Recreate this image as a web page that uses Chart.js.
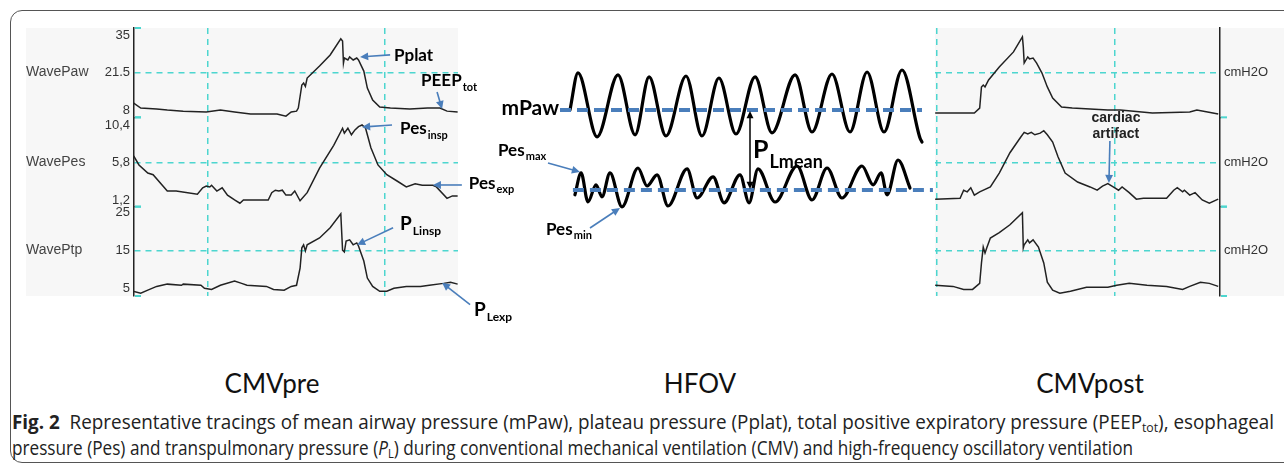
<!DOCTYPE html>
<html>
<head>
<meta charset="utf-8">
<script src="https://cdn.jsdelivr.net/npm/chart.js@4.4.0/dist/chart.umd.min.js"></script>
<style>
  body { margin:0; width:1284px; height:463px; overflow:hidden; background:#fff; position:relative; }
  #frame { position:absolute; left:10px; top:10px; width:1300px; height:453px; border:1.5px solid #555; border-radius:12px; box-sizing:border-box; }
  canvas { position:absolute; top:0; }
  .panel-name { position:absolute; top:367px; font-family:Lato, sans-serif; font-size:26px; color:#111; transform:translateX(-50%); white-space:nowrap; }
  .cap { position:absolute; left:12px; font-family:'Open Sans', sans-serif; font-size:20px; color:#222; white-space:nowrap; transform-origin:0 0; }
  .cap sub { font-size:13px; vertical-align:-3px; line-height:0; }
</style>
</head>
<body>
<div id="frame"></div>
<canvas id="pre" width="560" height="330" style="left:0"></canvas>
<canvas id="post" width="354" height="330" style="left:930px"></canvas>
<canvas id="hfov" width="480" height="330" style="left:460px"></canvas>
<div class="panel-name" style="left:272px">CMVpre</div>
<div class="panel-name" style="left:700px">HFOV</div>
<div class="panel-name" style="left:1090px">CMVpost</div>
<div class="cap" id="cap1" style="top:408px"><b>Fig. 2</b>&nbsp; Representative tracings of mean airway pressure (mPaw), plateau pressure (Pplat), total positive expiratory pressure (PEEP<sub>tot</sub>), esophageal</div>
<div class="cap" id="cap2" style="top:434px">pressure (Pes) and transpulmonary pressure (<i>P</i><sub>L</sub>) during conventional mechanical ventilation (CMV) and high-frequency oscillatory ventilation</div>
<script>
// ---- data (time in s, pressure in cmH2O) ----
const gridTimes = [1, 2];

// CMVpre
const pawPre = [[0.58,10.5],[0.62,8.7],[0.71,8.4],[0.77,8.0],[0.86,7.6],[0.99,7.3],[1.07,8.0],[1.15,7.3],[1.24,6.6],[1.39,6.6],[1.44,5.8],[1.47,7.3],[1.50,7.6],[1.51,8.7],[1.53,17.0],[1.54,17.7],[1.55,16.5],[1.56,19.5],[1.63,23.8],[1.69,27.8],[1.75,33.6],[1.76,32.8],[1.765,24.9],[1.77,26.7],[1.79,26.0],[1.80,27.1],[1.82,26.0],[1.84,26.7],[1.85,26.0],[1.88,22.0],[1.90,15.9],[1.93,11.6],[1.97,9.1],[2.03,8.7],[2.14,8.4],[2.24,8.7],[2.31,8.7],[2.35,7.6],[2.41,7.3]];
const pesPre = [[0.58,6.6],[0.61,5.5],[0.66,4.5],[0.69,4.3],[0.77,2.3],[0.82,2.3],[0.94,1.9],[0.97,2.7],[0.99,2.9],[1.01,2.8],[1.02,3.0],[1.05,2.3],[1.08,2.7],[1.11,1.8],[1.15,1.2],[1.18,0.8],[1.20,1.2],[1.34,1.2],[1.36,2.1],[1.38,2.4],[1.40,2.3],[1.42,2.4],[1.44,1.8],[1.47,1.8],[1.49,2.3],[1.52,1.1],[1.56,2.1],[1.63,5.1],[1.71,7.9],[1.76,10.0],[1.77,9.4],[1.79,10.0],[1.81,9.2],[1.83,9.8],[1.85,10.2],[1.87,10.4],[1.89,10.0],[1.92,7.6],[1.96,5.5],[2.01,4.3],[2.07,3.5],[2.12,2.8],[2.17,3.2],[2.21,3.0],[2.27,3.0],[2.29,2.8],[2.35,1.4],[2.38,1.7],[2.41,1.7]];
const ptpPre = [[0.58,4.2],[0.62,3.7],[0.66,4.5],[0.71,5.5],[0.77,6.1],[0.85,5.8],[0.86,6.1],[0.96,5.8],[0.98,5.0],[1.02,4.7],[1.07,5.8],[1.15,6.9],[1.19,6.3],[1.22,5.8],[1.33,5.5],[1.37,4.7],[1.43,4.5],[1.47,5.5],[1.50,5.8],[1.52,10.3],[1.53,15.7],[1.54,16.5],[1.55,14.9],[1.56,16.5],[1.63,18.3],[1.69,21.0],[1.75,24.7],[1.76,15.1],[1.77,14.6],[1.78,17.5],[1.80,17.8],[1.82,16.5],[1.84,17.0],[1.85,16.2],[1.88,12.2],[1.90,7.7],[1.93,5.5],[1.97,4.2],[2.01,4.2],[2.05,5.0],[2.12,5.5],[2.20,5.5],[2.25,5.8],[2.33,6.3],[2.37,6.6],[2.41,6.1]];

// CMVpost
const pawPost = [[0.99,6.9],[1.21,6.9],[1.24,8.7],[1.25,16.3],[1.26,17.0],[1.27,16.3],[1.29,18.8],[1.35,23.5],[1.43,28.9],[1.48,34.3],[1.485,30.7],[1.49,24.9],[1.51,27.1],[1.52,26.4],[1.54,26.7],[1.56,24.9],[1.59,21.3],[1.62,16.3],[1.65,12.3],[1.70,9.1],[1.76,8.7],[1.96,8.0],[2.03,8.0],[2.21,6.9],[2.42,7.3],[2.46,8.0],[2.52,7.3],[2.58,6.6]];
const pesPost = [[0.99,1.3],[1.13,1.4],[1.15,2.4],[1.17,2.2],[1.19,2.7],[1.21,1.8],[1.24,2.2],[1.30,2.8],[1.35,4.5],[1.41,7.0],[1.47,8.9],[1.49,9.5],[1.51,9.3],[1.53,9.5],[1.55,9.2],[1.58,9.4],[1.60,9.7],[1.62,9.2],[1.65,8.3],[1.68,6.5],[1.72,4.5],[1.79,3.4],[1.86,2.8],[1.90,2.4],[1.93,2.9],[1.96,3.2],[1.99,2.8],[2.02,2.4],[2.04,2.8],[2.08,2.1],[2.12,1.3],[2.16,1.4],[2.29,1.4],[2.33,2.4],[2.35,2.7],[2.38,2.2],[2.39,2.4],[2.42,1.8],[2.45,2.1],[2.49,1.2],[2.53,0.8],[2.58,1.3]];
const ptpPost = [[0.99,5.8],[1.09,5.5],[1.15,4.7],[1.20,4.7],[1.24,6.3],[1.25,11.7],[1.26,15.9],[1.27,14.3],[1.28,15.7],[1.30,18.3],[1.35,19.7],[1.41,21.8],[1.48,25.0],[1.485,15.7],[1.49,16.5],[1.51,17.8],[1.52,17.0],[1.54,17.8],[1.57,15.9],[1.60,11.7],[1.62,6.6],[1.65,4.5],[1.69,3.7],[1.75,4.2],[1.84,5.3],[1.96,5.3],[2.01,5.8],[2.08,6.3],[2.18,5.8],[2.29,5.5],[2.38,4.7],[2.42,5.5],[2.48,6.6],[2.53,6.3],[2.58,5.5]];

// axis ranges / ticks of the monitor rows
const pawRange = [5.37, 37.5], pawTicks = [8, 21.5, 35], pawLabels = ['8', '21.5', '35'];
const pesRange = [0.38, 11.34], pesTicks = [1.2, 5.8, 10.4], pesLabels = ['1,2', '5,8', '10,4'];
const ptpRange = [2.96, 26.59], ptpTicks = [5, 15, 25], ptpLabels = ['5', '15', '25'];

// HFOV schematic (time in ms, pressure in cmH2O)
const mPawWave = [[0,32.5],[44,41.8],[149,25.8],[264,41.3],[358,26.3],[435,40.8],[528,26],[638,41],[726,26],[819,40.5],[913,26.5],[1018,40.8],[1111,26.8],[1238,41.3],[1331,27],[1441,41.5],[1540,27],[1634,42],[1727,27],[1826,42.5],[1925,25.5],[1936,24.5]];
const pesWave = [[27,11.3],[61,16.8],[99,9.5],[143,13.8],[176,10.8],[220,16.8],[286,8.3],[374,18],[424,13.5],[479,16.3],[539,8.5],[644,17.8],[699,10.5],[787,15.8],[847,9.3],[935,16.3],[985,9.3],[1034,17.8],[1128,9.5],[1249,18.5],[1331,10],[1414,18],[1496,10.5],[1606,18.5],[1667,13.8],[1711,16.8],[1744,11.3],[1804,20],[1870,13]];
const mPawLevel = 32.5, pesLevel = 12.5;
const mPawSpan = [-55, 1936], pesSpan = [16, 1996];
const plMeanTime = 990;

const CYAN = '#4dd6cf';
const BLUE = '#4a7ebb';
const NOTE_FONT = 'Lato, sans-serif';
const MONO_FONT = "'Liberation Sans', Arial, sans-serif";

function arrow(ctx, x1, y1, x2, y2, color, width, head) {
  const a = Math.atan2(y2 - y1, x2 - x1);
  ctx.save();
  ctx.strokeStyle = color; ctx.fillStyle = color; ctx.lineWidth = width;
  ctx.beginPath();
  ctx.moveTo(x1, y1);
  ctx.lineTo(x2 - Math.cos(a) * head * 0.7, y2 - Math.sin(a) * head * 0.7);
  ctx.stroke();
  ctx.beginPath();
  ctx.moveTo(x2, y2);
  ctx.lineTo(x2 - head * Math.cos(a - 0.45), y2 - head * Math.sin(a - 0.45));
  ctx.lineTo(x2 - head * Math.cos(a + 0.45), y2 - head * Math.sin(a + 0.45));
  ctx.closePath();
  ctx.fill();
  ctx.restore();
}

function label(ctx, x, y, t) {
  ctx.save();
  ctx.fillStyle = '#000';
  ctx.textAlign = 'left';
  ctx.textBaseline = 'alphabetic';
  ctx.font = 'bold ' + t.size + 'px ' + NOTE_FONT;
  const base = y + t.size * 0.35;
  ctx.fillText(t.main, x, base);
  if (t.sub) {
    const w = ctx.measureText(t.main).width;
    ctx.font = 'bold ' + t.subSize + 'px ' + NOTE_FONT;
    ctx.fillText(t.sub, x + w + 1, base + (t.drop || t.subSize * 0.4));
  }
  ctx.restore();
}

// arrow tip sits on the data, tail and text are offsets in px
function notesPlugin(notes) {
  return {
    id: 'notes',
    afterDatasetsDraw(chart) {
      const ctx = chart.ctx;
      notes.forEach(n => {
        const px = chart.scales.x.getPixelForValue(n.x);
        const py = chart.scales[n.axis].getPixelForValue(n.y);
        const ax = px + n.dx, ay = py + n.dy;
        arrow(ctx, ax, ay, px, py, BLUE, 1.6, 9);
        if (n.main) label(ctx, ax + n.tx, ay + n.ty, n);
      });
    }
  };
}

function trace(points, axis) {
  return { data: points, yAxisID: axis, borderColor: '#222', borderWidth: 1.5, pointRadius: 0, tension: 0 };
}

function xAxis(min, max) {
  return {
    type: 'linear', min: min, max: max,
    afterBuildTicks: s => { s.ticks = gridTimes.map(v => ({ value: v })); },
    afterFit: s => { s.height = 0; },
    ticks: { display: false },
    grid: { color: CYAN, lineWidth: 1.5, drawTicks: false },
    border: { display: false, dash: [6, 5] }
  };
}

function yAxis(range, ticks, labels, pos, stack, width) {
  return {
    type: 'linear', position: pos, stack: stack, stackWeight: 1,
    min: range[0], max: range[1],
    afterBuildTicks: s => { s.ticks = ticks.map(v => ({ value: v })); },
    afterFit: s => { s.width = width; },
    ticks: { callback: (v, i) => labels[i], color: '#333', padding: 4, autoSkip: false,
      font: { family: MONO_FONT, size: 13 } },
    grid: { drawTicks: false, lineWidth: 1.5,
      color: c => (c.tick && c.tick.value === ticks[1]) ? CYAN : 'rgba(0,0,0,0)' },
    border: { display: true, color: '#222', width: 1.5, dash: [6, 5] }
  };
}

// grey monitor background + little cyan separators on the axis
function monitorPlugin(bgLeft, bgRight, axisIds, side) {
  return {
    id: 'monitor',
    beforeDraw(chart) {
      const { ctx, chartArea } = chart;
      ctx.save();
      ctx.fillStyle = '#f7f7f7';
      const r = bgRight == null ? chart.width : bgRight;
      ctx.fillRect(bgLeft, chartArea.top, r - bgLeft, chartArea.bottom - chartArea.top);
      ctx.restore();
    },
    afterDraw(chart) {
      const { ctx, chartArea } = chart;
      const ax = side === 'left' ? chartArea.left : chartArea.right;
      ctx.save();
      ctx.strokeStyle = CYAN; ctx.lineWidth = 2;
      axisIds.forEach(id => {
        const s = chart.scales[id];
        [s.top, s.bottom].forEach(y => {
          ctx.beginPath(); ctx.moveTo(ax + 1, y); ctx.lineTo(ax + 7, y); ctx.stroke();
        });
      });
      ctx.restore();
    }
  };
}

function rowNamesPlugin(rows) {
  return {
    id: 'rowNames',
    afterDraw(chart) {
      const ctx = chart.ctx;
      ctx.save();
      ctx.fillStyle = '#444';
      ctx.font = '14px ' + MONO_FONT;
      ctx.textBaseline = 'middle';
      rows.forEach(r => ctx.fillText(r.name, r.x, chart.scales[r.axis].getPixelForValue(r.value)));
      ctx.restore();
    }
  };
}

const baseOptions = (padding, scales) => ({
  responsive: false, animation: false,
  layout: { padding: padding },
  plugins: { legend: { display: false }, tooltip: { enabled: false } },
  scales: scales
});

// ---- CMVpre ----
const preNotes = [
  { axis: 'yPaw', x: 1.859, y: 27.1, dx: 30, dy: -2, tx: 4, ty: 0, main: 'Pplat', size: 17 },
  { axis: 'yPaw', x: 2.322, y: 8.36, dx: -5, dy: -17, tx: -16, ty: -11.5, main: 'PEEP', sub: 'tot', size: 17, subSize: 11 },
  { axis: 'yPes', x: 1.870, y: 10.15, dx: 30, dy: -2, tx: 8, ty: 3.5, main: 'Pes', sub: 'insp', size: 17, subSize: 11 },
  { axis: 'yPes', x: 2.270, y: 3.04, dx: 29, dy: 0, tx: 7, ty: -2, main: 'Pes', sub: 'exp', size: 17, subSize: 11 },
  { axis: 'yPtp', x: 1.842, y: 16.5, dx: 36, dy: -17, tx: 7, ty: -4, main: 'P', sub: 'Linsp', size: 19, subSize: 12 },
  { axis: 'yPtp', x: 2.322, y: 6.48, dx: 28, dy: 22, tx: 4, ty: 5, main: 'P', sub: 'Lexp', size: 19, subSize: 12 }
];

new Chart(document.getElementById('pre'), {
  type: 'line',
  data: { datasets: [trace(pawPre, 'yPaw'), trace(pesPre, 'yPes'), trace(ptpPre, 'yPtp')] },
  options: baseOptions({ top: 28, bottom: 34, left: 0, right: 102 }, {
    x: xAxis(0.582, 2.412),
    yPtp: yAxis(ptpRange, ptpTicks, ptpLabels, 'left', 'pre', 134),
    yPes: yAxis(pesRange, pesTicks, pesLabels, 'left', 'pre', 134),
    yPaw: yAxis(pawRange, pawTicks, pawLabels, 'left', 'pre', 134)
  }),
  plugins: [
    monitorPlugin(26, 458, ['yPaw', 'yPes', 'yPtp'], 'left'),
    rowNamesPlugin([
      { name: 'WavePaw', axis: 'yPaw', value: pawTicks[1], x: 26 },
      { name: 'WavePes', axis: 'yPes', value: pesTicks[1], x: 26 },
      { name: 'WavePtp', axis: 'yPtp', value: ptpTicks[1], x: 26 }
    ]),
    notesPlugin(preNotes)
  ]
});

// ---- CMVpost ----
const unitLabels = ['', 'cmH2O', ''];
const postNotes = [
  { axis: 'yPes', x: 1.966, y: 3.29, dx: 1, dy: -42 }
];

new Chart(document.getElementById('post'), {
  type: 'line',
  data: { datasets: [trace(pawPost, 'yPaw'), trace(pesPost, 'yPes'), trace(ptpPost, 'yPtp')] },
  options: baseOptions({ top: 28, bottom: 34, left: 5, right: 0 }, {
    x: xAxis(0.989, 2.590),
    yPaw: yAxis(pawRange, pawTicks, unitLabels, 'right', 'post', 64),
    yPes: yAxis(pesRange, pesTicks, unitLabels, 'right', 'post', 64),
    yPtp: yAxis(ptpRange, ptpTicks, unitLabels, 'right', 'post', 64)
  }),
  plugins: [
    monitorPlugin(5, null, ['yPes', 'yPtp'], 'right'),
    notesPlugin(postNotes),
    {
      id: 'cardiac',
      afterDraw(chart) {
        const ctx = chart.ctx;
        const n = postNotes[0];
        const cx = chart.scales.x.getPixelForValue(n.x) + n.dx + 6;
        const cy = chart.scales.yPes.getPixelForValue(n.y) + n.dy;
        ctx.save();
        ctx.fillStyle = '#222';
        ctx.font = 'bold 14px ' + MONO_FONT;
        ctx.textAlign = 'center';
        ctx.textBaseline = 'middle';
        ctx.fillText('cardiac', cx, cy - 23);
        ctx.fillText('artifact', cx, cy - 7);
        ctx.restore();
      }
    }
  ]
});

// ---- HFOV schematic ----
const hfovNotes = [
  { axis: 'y', x: 55, y: 17, dx: -32, dy: -9, tx: -50, ty: -13, main: 'Pes', sub: 'max', size: 17, subSize: 11 },
  { axis: 'y', x: 275, y: 8, dx: -30, dy: 20, tx: -44, ty: 1, main: 'Pes', sub: 'min', size: 17, subSize: 11 }
];

new Chart(document.getElementById('hfov'), {
  type: 'line',
  data: { datasets: [
    { data: [[mPawSpan[0], mPawLevel], [mPawSpan[1], mPawLevel]], borderColor: BLUE, borderWidth: 4, borderDash: [11, 6], pointRadius: 0 },
    { data: [[pesSpan[0], pesLevel], [pesSpan[1], pesLevel]], borderColor: BLUE, borderWidth: 4, borderDash: [11, 6], pointRadius: 0 },
    { data: mPawWave, borderColor: '#000', borderWidth: 3.2, pointRadius: 0, cubicInterpolationMode: 'monotone', borderCapStyle: 'round' },
    { data: pesWave, borderColor: '#000', borderWidth: 3.2, pointRadius: 0, cubicInterpolationMode: 'monotone', borderCapStyle: 'round' }
  ] },
  options: baseOptions(0, {
    x: { type: 'linear', display: false, min: -605, max: 2035 },
    y: { type: 'linear', display: false, min: -22.5, max: 60 }
  }),
  plugins: [
    notesPlugin(hfovNotes),
    {
      id: 'hfovText',
      afterDatasetsDraw(chart) {
        const { ctx, scales: { x, y } } = chart;
        const lx = x.getPixelForValue(mPawSpan[0]);
        const ly = y.getPixelForValue(mPawLevel);
        ctx.save();
        ctx.fillStyle = '#000';
        ctx.font = 'bold 21px ' + NOTE_FONT;
        ctx.textAlign = 'right';
        ctx.fillText('mPaw', lx - 1, ly + 5);
        ctx.restore();
        const ax = x.getPixelForValue(plMeanTime);
        const a1 = y.getPixelForValue(mPawLevel), a2 = y.getPixelForValue(pesLevel);
        const mid = (a1 + a2) / 2;
        arrow(ctx, ax, mid, ax, a1 + 1, '#000', 1.5, 8);
        arrow(ctx, ax, mid, ax, a2 - 1, '#000', 1.5, 8);
        label(ctx, ax + 3, mid - 1, { main: 'P', sub: 'Lmean', size: 25, subSize: 18, drop: 10 });
      }
    }
  ]
});

// caption set in a condensed face: squeeze each line to its width in the figure
function squeeze(el, target) {
  el.style.transform = 'scaleX(' + (target / el.getBoundingClientRect().width) + ')';
}
squeeze(document.getElementById('cap1'), 1262);
squeeze(document.getElementById('cap2'), 1121);
</script>
</body>
</html>
